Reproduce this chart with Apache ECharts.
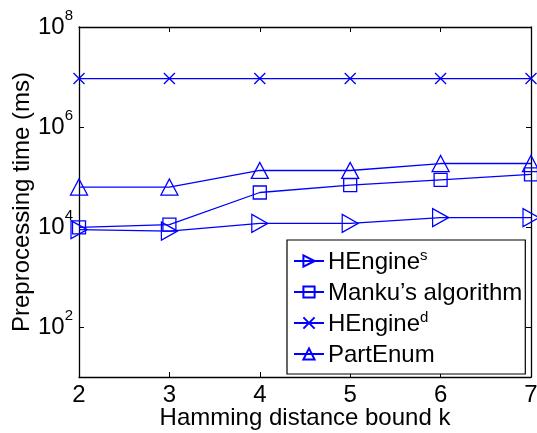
<!DOCTYPE html>
<html>
<head>
<meta charset="utf-8">
<script src="https://cdn.jsdelivr.net/npm/echarts@6/dist/echarts.min.js"></script>
<style>
  html, body { margin: 0; padding: 0; background: #fff; }
  #chart { width: 537px; height: 433px; }
</style>
</head>
<body>
<div id="chart"></div>
<script>
// Hamming distance bound k
const kValues = [2, 3, 4, 5, 6, 7];

// Preprocessing time (ms) per method
const hengineS = [8900, 8300, 11800, 11800, 15400, 15400];
const manku = [9800, 11200, 49000, 69000, 88000, 113000];
const hengineD = [9300000, 9300000, 9300000, 9300000, 9300000, 9300000];
const partEnum = [63000, 63000, 135000, 135000, 186000, 186000];

// Labelled decades on the time axis
const yTickValues = [100, 10000, 1000000, 100000000];

const seriesNames = ['HEngine_s', "Manku\u2019s algorithm", 'HEngine_d', 'PartEnum'];
const legendText = {
  'HEngine_s': 'HEngine{sup|s}',
  "Manku\u2019s algorithm": "Manku\u2019s algorithm",
  'HEngine_d': 'HEngine{sup|d}',
  'PartEnum': 'PartEnum'
};

const FONT = '"Liberation Sans", Arial, Helvetica, sans-serif';
const BLUE = '#0000ff';

function pairs(values) {
  return kValues.map((k, i) => [k, values[i]]);
}

function lineSeries(name, values, symbol, size, rotate) {
  return {
    name: name,
    type: 'line',
    data: pairs(values),
    symbol: symbol,
    symbolSize: size,
    symbolRotate: rotate || 0,
    showAllSymbol: true,
    color: BLUE,
    lineStyle: { color: BLUE, width: 1.3 },
    itemStyle: { color: 'rgba(0,0,0,0)', borderColor: BLUE, borderWidth: 1.3 },
    emphasis: { disabled: true },
    animation: false,
    z: 3
  };
}

const chart = echarts.init(document.getElementById('chart'), null, { renderer: 'canvas' });

chart.setOption({
  backgroundColor: '#fff',
  animation: false,
  grid: { left: 79, right: 6, top: 27, bottom: 56, containLabel: false, outerBoundsMode: 'none' },
  legend: {
    orient: 'vertical',
    left: 287,
    top: 240,
    padding: [6, 3, 5, 6],
    itemGap: 1,
    itemWidth: 30,
    itemHeight: 14,
    borderColor: '#000',
    borderWidth: 1.2,
    borderRadius: 0,
    backgroundColor: '#fff',
    data: seriesNames,
    selectedMode: false,
    formatter: name => legendText[name],
    textStyle: {
      fontFamily: FONT,
      fontSize: 24,
      lineHeight: 28,
      color: '#000',
      padding: [2, 0, 0, -1],
      rich: {
        sup: { fontSize: 15, lineHeight: 8, fontFamily: FONT, color: '#000', verticalAlign: 'top' }
      }
    }
  },
  xAxis: [
    {
      type: 'value',
      min: 2,
      max: 7,
      interval: 1,
      name: 'Hamming distance bound k',
      nameLocation: 'middle',
      nameGap: 29,
      nameMoveOverlap: false,
      nameTextStyle: { fontFamily: FONT, fontSize: 24, color: '#000' },
      axisLine: { show: true, lineStyle: { color: '#000', width: 1.3 } },
      axisTick: { show: true, inside: true, length: 5, lineStyle: { color: '#000', width: 1 } },
      axisLabel: { fontFamily: FONT, fontSize: 24, color: '#000', margin: 6 },
      splitLine: { show: false }
    },
    {
      type: 'value',
      position: 'top',
      min: 2,
      max: 7,
      interval: 1,
      axisLine: { show: true, lineStyle: { color: '#000', width: 1.3 } },
      axisTick: { show: true, inside: true, length: 5, lineStyle: { color: '#000', width: 1 } },
      axisLabel: { show: false },
      splitLine: { show: false }
    }
  ],
  yAxis: [
    {
      type: 'log',
      logBase: 10,
      min: 10,
      max: 100000000,
      name: 'Preprocessing time (ms)',
      nameLocation: 'middle',
      nameGap: 45,
      nameMoveOverlap: false,
      nameTextStyle: { fontFamily: FONT, fontSize: 24, color: '#000' },
      axisLine: { show: true, lineStyle: { color: '#000', width: 1.3 } },
      axisTick: { show: true, inside: true, length: 5, customValues: yTickValues, lineStyle: { color: '#000', width: 1 } },
      axisLabel: {
        customValues: yTickValues,
        fontFamily: FONT,
        fontSize: 24,
        lineHeight: 38,
        color: '#000',
        margin: 6,
        formatter: v => '10{sup|' + Math.round(Math.log10(v)) + '}',
        rich: {
          sup: { fontSize: 15, lineHeight: 15, fontFamily: FONT, color: '#000', verticalAlign: 'top' }
        }
      },
      splitLine: { show: false }
    },
    {
      type: 'log',
      logBase: 10,
      min: 10,
      max: 100000000,
      position: 'right',
      axisLine: { show: true, lineStyle: { color: '#000', width: 1.3 } },
      axisTick: { show: true, inside: true, length: 5, customValues: yTickValues, lineStyle: { color: '#000', width: 1 } },
      axisLabel: { show: false },
      splitLine: { show: false }
    }
  ],
  series: [
    lineSeries(seriesNames[0], hengineS, 'triangle', [18, 16], -90),
    lineSeries(seriesNames[1], manku, 'rect', 13),
    lineSeries(seriesNames[2], hengineD, 'path://M0,0L10,10M10,0L0,10', 11),
    lineSeries(seriesNames[3], partEnum, 'triangle', [17, 16])
  ]
});
</script>
</body>
</html>
